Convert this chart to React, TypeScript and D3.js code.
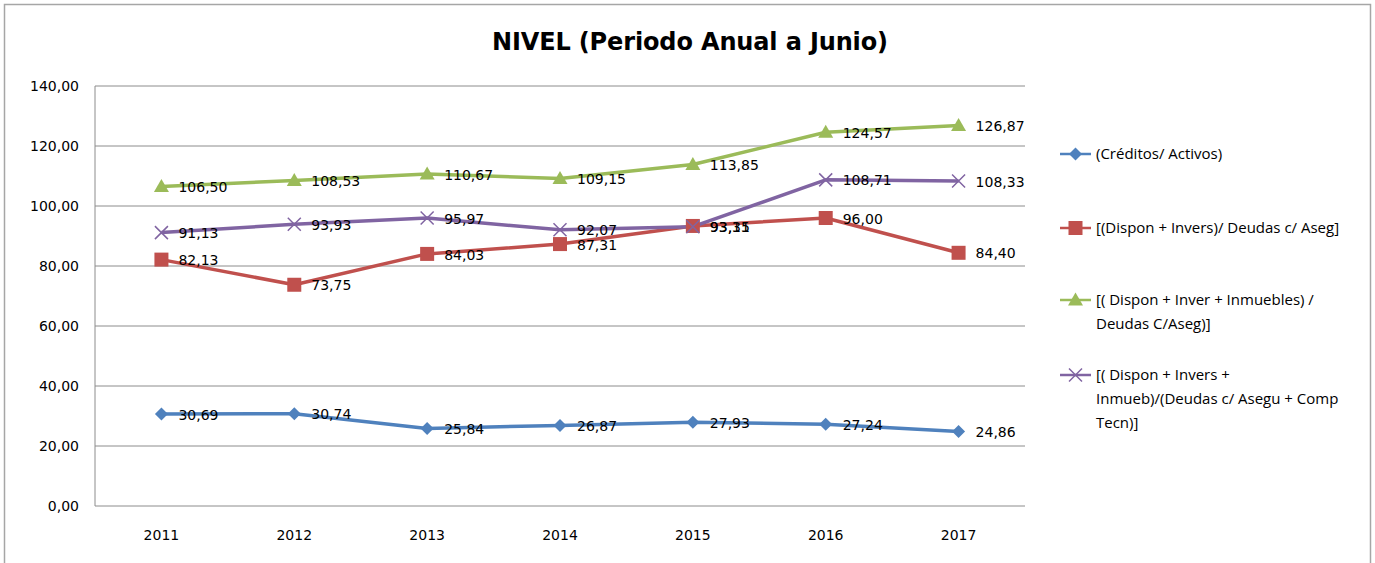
import React from 'react';
import * as d3 from 'd3';

const years = ['2011', '2012', '2013', '2014', '2015', '2016', '2017'];
const creditos = [30.69, 30.74, 25.84, 26.87, 27.93, 27.24, 24.86];
const disponInvers = [82.13, 73.75, 84.03, 87.31, 93.35, 96.0, 84.4];
const disponInmuebles = [106.5, 108.53, 110.67, 109.15, 113.85, 124.57, 126.87];
const disponCompTecn = [91.13, 93.93, 95.97, 92.07, 93.11, 108.71, 108.33];
const yTicks = [0, 20, 40, 60, 80, 100, 120, 140];

const seriesNames = [
  ['(Créditos/ Activos)'],
  ['[(Dispon + Invers)/ Deudas c/ Aseg]'],
  ['[( Dispon + Inver + Inmuebles) /', 'Deudas C/Aseg)]'],
  ['[( Dispon + Invers +', 'Inmueb)/(Deudas c/ Asegu + Comp', 'Tecn)]'],
];

const series = [
  { values: creditos, color: '#4F81BD', marker: 'diamond' },
  { values: disponInvers, color: '#C0504D', marker: 'square' },
  { values: disponInmuebles, color: '#9BBB59', marker: 'triangle' },
  { values: disponCompTecn, color: '#8064A2', marker: 'x' },
];

const W = 1375;
const H = 563;
const margin = { top: 86, left: 95, right: 350, bottom: 57 };
const fmt = (v: number) => v.toFixed(2).replace('.', ',');

const Marker: React.FC<{ type: string; color: string; x: number; y: number }> = ({ type, color, x, y }) => {
  if (type === 'diamond') {
    const s = 6.5;
    return <path d={`M${x},${y - s}L${x + s},${y}L${x},${y + s}L${x - s},${y}Z`} fill={color} />;
  }
  if (type === 'square') {
    return <rect x={x - 7} y={y - 7} width={14} height={14} fill={color} />;
  }
  if (type === 'triangle') {
    return <path d={`M${x},${y - 7.5}L${x + 7.5},${y + 5.5}L${x - 7.5},${y + 5.5}Z`} fill={color} />;
  }
  const s = 6.5;
  return (
    <path
      d={`M${x - s},${y - s}L${x + s},${y + s}M${x + s},${y - s}L${x - s},${y + s}`}
      stroke={color}
      strokeWidth={1.5}
      fill="none"
    />
  );
};

export default function App() {
  const innerW = W - margin.left - margin.right;
  const x = d3.scaleBand<string>().domain(years).range([margin.left, margin.left + innerW]);
  const y = d3.scaleLinear().domain([0, 140]).range([H - margin.bottom, margin.top]);
  const cx = (yr: string) => (x(yr) ?? 0) + x.bandwidth() / 2;

  const line = d3
    .line<number>()
    .x((_, i) => cx(years[i]))
    .y((d) => y(d));

  const legendRows = [154, 228, 300, 375];

  return (
    <svg
      width={W}
      height={H}
      style={{ position: 'absolute', left: 0, top: 0, background: '#fff' }}
      fontFamily="'DejaVu Sans', Verdana, sans-serif"
    >
      <rect x={4.5} y={4.5} width={1366} height={580} fill="#fff" stroke="#a6a6a6" strokeWidth={1.5} />

      <text x={690} y={50} textAnchor="middle" fontSize={24} fontWeight="bold" fill="#000" textLength={396}>
        NIVEL (Periodo Anual a Junio)
      </text>

      {/* grid */}
      {yTicks.map((t) => (
        <g key={t}>
          <line x1={margin.left} x2={margin.left + innerW} y1={y(t)} y2={y(t)} stroke="#8c8c8c" strokeWidth={1} />
          <text x={79} y={y(t)} dy="0.35em" textAnchor="end" fontSize={14} fill="#000">
            {fmt(t)}
          </text>
        </g>
      ))}
      <line x1={margin.left} x2={margin.left} y1={y(140)} y2={y(0)} stroke="#8c8c8c" strokeWidth={1} />

      {years.map((yr) => (
        <text key={yr} x={cx(yr)} y={540} textAnchor="middle" fontSize={14} fill="#000">
          {yr}
        </text>
      ))}

      {/* lines */}
      {series.map((s, i) => (
        <path key={i} d={line(s.values) || ''} fill="none" stroke={s.color} strokeWidth={3.5} strokeLinejoin="round" />
      ))}
      {series.map((s, i) => (
        <g key={i}>
          {s.values.map((v, j) => (
            <Marker key={j} type={s.marker} color={s.color} x={cx(years[j])} y={y(v)} />
          ))}
        </g>
      ))}
      {series.map((s, i) => (
        <g key={i}>
          {s.values.map((v, j) => (
            <text key={j} x={cx(years[j]) + 17} y={y(v)} dy="0.4em" fontSize={14} fill="#000">
              {fmt(v)}
            </text>
          ))}
        </g>
      ))}

      {/* legend */}
      {series.map((s, i) => (
        <g key={i}>
          <line x1={1060} x2={1091} y1={legendRows[i]} y2={legendRows[i]} stroke={s.color} strokeWidth={2.5} />
          <Marker type={s.marker} color={s.color} x={1075.5} y={legendRows[i]} />
          {seriesNames[i].map((ln, k) => (
            <text
              key={k}
              x={1096}
              y={legendRows[i] + k * 24}
              dy="0.35em"
              fontSize={15}
              fontFamily="'Open Sans', sans-serif"
              fill="#000"
            >
              {ln}
            </text>
          ))}
        </g>
      ))}
    </svg>
  );
}
